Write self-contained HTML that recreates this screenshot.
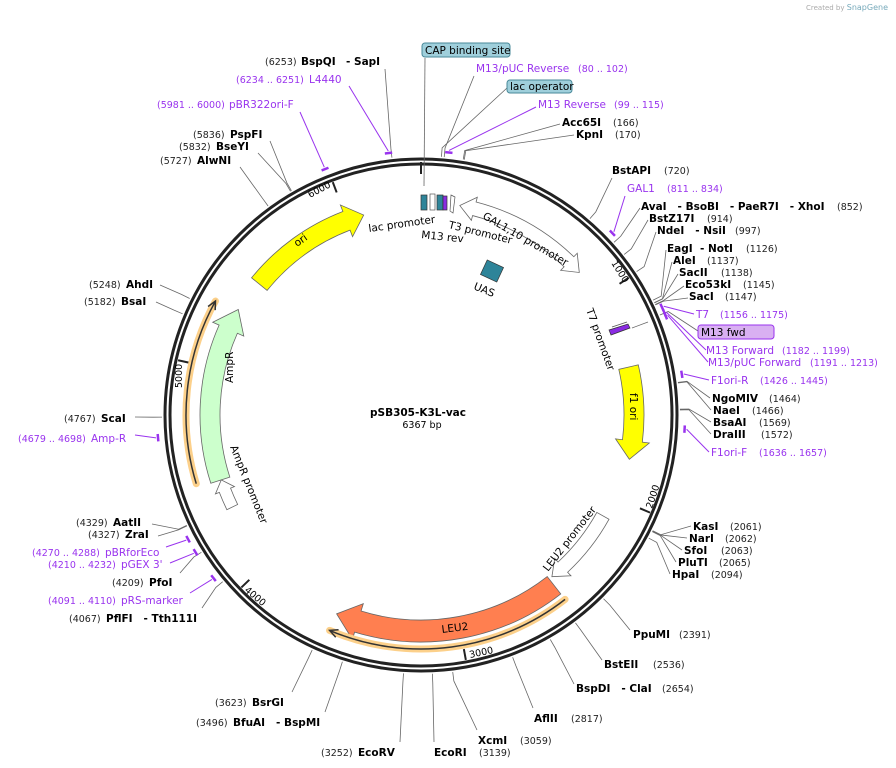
<!DOCTYPE html>
<html><head><meta charset="utf-8"><style>
html,body{margin:0;padding:0;background:#fff;}
svg{display:block;font-family:"DejaVu Sans","Liberation Sans",sans-serif;}
.b{font-weight:bold;font-size:10.5px;fill:#000;}
.n{font-size:9.5px;fill:#222;}
.p{font-size:10.5px;fill:#9933ee;}
.pn{font-size:9.5px;fill:#9933ee;}
.f{font-size:10.5px;fill:#000;}
</style></head><body>
<svg id="s" width="896" height="768" viewBox="0 0 896 768" xmlns="http://www.w3.org/2000/svg">
<text x="888" y="10" text-anchor="end" font-size="7" fill="#aaa">Created by <tspan fill="#7ab" font-size="8">SnapGene</tspan></text>
<g id="lines" stroke="#666" stroke-width="0.8" fill="none"></g>
<g id="plines" stroke="#9933ee" stroke-width="1" fill="none"></g>
<circle cx="421" cy="415" r="256" fill="none" stroke="#222" stroke-width="3"/>
<circle cx="421" cy="415" r="251" fill="none" stroke="#222" stroke-width="3"/>
<g id="ticks" stroke="#222" stroke-width="2"></g>
<g id="feat"></g>
<line x1="425" y1="58" x2="424" y2="186" stroke="#666" stroke-width="0.8"/>
<rect x="421" y="195" width="6" height="15" fill="#2e8499" stroke="#333" stroke-width="0.7"/>
<rect x="430" y="194" width="5" height="16" fill="#fff" stroke="#555" stroke-width="0.7"/>
<rect x="437" y="195" width="6" height="15" fill="#2e8499" stroke="#333" stroke-width="0.7"/>
<rect x="443" y="196" width="4" height="14" fill="#8a2be2" stroke="#333" stroke-width="0.7"/>
<path d="M451 195 L455 197 L453 213 L450 211Z" fill="#fff" stroke="#555" stroke-width="0.7"/>
<rect x="483" y="263" width="18" height="16" fill="#2e8499" stroke="#333" stroke-width="0.7" transform="rotate(25 492 271)"/>
<path d="M609 330 L628 324 L630 328 L611 335Z" fill="#8a2be2" stroke="#333" stroke-width="0.7"/>
<path d="M612 327 L627 322" stroke="#555" stroke-width="0.8"/>
<line x1="632" y1="328" x2="648" y2="322" stroke="#666" stroke-width="0.8"/>
<text class="f" x="369" y="232" transform="rotate(-8 369 232)">lac promoter</text>
<text class="f" x="421" y="238" transform="rotate(6 421 238)">M13 rev</text>
<text class="f" x="448" y="228" transform="rotate(14 448 228)">T3 promoter</text>
<text class="f" x="473" y="289" transform="rotate(22 473 289)">UAS</text>
<text class="f" x="482" y="218" transform="rotate(30 482 218)">GAL1,10 promoter</text>
<text class="f" x="586" y="310" transform="rotate(70 586 310)">T7 promoter</text>
<text class="f" x="297" y="247" transform="rotate(-35 297 247)">ori</text>
<text class="f" x="630" y="393" transform="rotate(90 630 393)">f1 ori</text>
<text class="f" x="442" y="633" transform="rotate(-7 442 633)">LEU2</text>
<text class="f" x="548" y="572" transform="rotate(-52 548 572)">LEU2 promoter</text>
<text class="f" x="233" y="383" transform="rotate(-90 233 383)">AmpR</text>
<text class="f" x="230" y="447" transform="rotate(68 230 447)">AmpR promoter</text>
<text font-size="9.5" x="310" y="198" transform="rotate(-28 310 198)">6000</text>
<text font-size="9.5" x="611" y="263" transform="rotate(58 611 263)">1000</text>
<text font-size="9.5" x="652" y="509" transform="rotate(-72 652 509)">2000</text>
<text font-size="9.5" x="470" y="658" transform="rotate(-12 470 658)">3000</text>
<text font-size="9.5" x="244" y="591" transform="rotate(40 244 591)">4000</text>
<text font-size="9.5" x="182" y="388" transform="rotate(-90 182 388)">5000</text>
<text x="418" y="416" text-anchor="middle" font-size="10.5" font-weight="bold">pSB305-K3L-vac</text>
<text x="422" y="428" text-anchor="middle" font-size="9.5">6367 bp</text>
<text class="n" x="265" y="65">(6253)</text><text class="b" x="301" y="65">BspQI</text><text class="b" x="346" y="65">- SapI</text>
<text class="pn" x="236" y="83">(6234 .. 6251)</text><text class="p" x="309" y="83">L4440</text>
<text class="pn" x="157" y="108">(5981 .. 6000)</text><text class="p" x="229" y="108">pBR322ori-F</text>
<text class="n" x="193" y="138">(5836)</text><text class="b" x="230" y="138">PspFI</text>
<text class="n" x="179" y="150">(5832)</text><text class="b" x="216" y="150">BseYI</text>
<text class="n" x="160" y="164">(5727)</text><text class="b" x="197" y="164">AlwNI</text>
<rect x="422" y="43" width="88" height="14" rx="3" fill="#9fcfdb" stroke="#4a8a9a"/>
<text class="f" x="425" y="54">CAP binding site</text>
<text class="p" x="476" y="72">M13/pUC Reverse</text><text class="pn" x="578" y="72">(80 .. 102)</text>
<rect x="507" y="80" width="65" height="13" rx="3" fill="#9fcfdb" stroke="#4a8a9a"/>
<text class="f" x="510" y="90">lac operator</text>
<text class="p" x="538" y="108">M13 Reverse</text><text class="pn" x="614" y="108">(99 .. 115)</text>
<text class="b" x="562" y="126">Acc65I</text><text class="n" x="613" y="126">(166)</text>
<text class="b" x="576" y="138">KpnI</text><text class="n" x="615" y="138">(170)</text>
<text class="b" x="612" y="174">BstAPI</text><text class="n" x="664" y="174">(720)</text>
<text class="p" x="627" y="192">GAL1</text><text class="pn" x="667" y="192">(811 .. 834)</text>
<text class="b" x="641" y="210">AvaI &#160; - BsoBI &#160; - PaeR7I &#160; - XhoI</text><text class="n" x="837" y="210">(852)</text>
<text class="b" x="649" y="222">BstZ17I</text><text class="n" x="707" y="222">(914)</text>
<text class="b" x="657" y="234">NdeI &#160; - NsiI</text><text class="n" x="735" y="234">(997)</text>
<text class="b" x="667" y="252">EagI &#160;- NotI</text><text class="n" x="746" y="252">(1126)</text>
<text class="b" x="673" y="264">AleI</text><text class="n" x="707" y="264">(1137)</text>
<text class="b" x="679" y="276">SacII</text><text class="n" x="721" y="276">(1138)</text>
<text class="b" x="685" y="288">Eco53kI</text><text class="n" x="743" y="288">(1145)</text>
<text class="b" x="689" y="300">SacI</text><text class="n" x="725" y="300">(1147)</text>
<text class="p" x="696" y="318">T7</text><text class="pn" x="720" y="318">(1156 .. 1175)</text>
<rect x="698" y="325" width="76" height="14" rx="3" fill="#d9b0f2" stroke="#9933ee"/>
<text class="f" x="701" y="336">M13 fwd</text>
<text class="p" x="706" y="354">M13 Forward</text><text class="pn" x="782" y="354">(1182 .. 1199)</text>
<text class="p" x="708" y="366">M13/pUC Forward</text><text class="pn" x="810" y="366">(1191 .. 1213)</text>
<text class="p" x="711" y="384">F1ori-R</text><text class="pn" x="760" y="384">(1426 .. 1445)</text>
<text class="b" x="712" y="402">NgoMIV</text><text class="n" x="769" y="402">(1464)</text>
<text class="b" x="713" y="414">NaeI</text><text class="n" x="752" y="414">(1466)</text>
<text class="b" x="713" y="426">BsaAI</text><text class="n" x="759" y="426">(1569)</text>
<text class="b" x="713" y="438">DraIII</text><text class="n" x="761" y="438">(1572)</text>
<text class="p" x="711" y="456">F1ori-F</text><text class="pn" x="759" y="456">(1636 .. 1657)</text>
<text class="b" x="693" y="530">KasI</text><text class="n" x="730" y="530">(2061)</text>
<text class="b" x="689" y="542">NarI</text><text class="n" x="725" y="542">(2062)</text>
<text class="b" x="684" y="554">SfoI</text><text class="n" x="721" y="554">(2063)</text>
<text class="b" x="678" y="566">PluTI</text><text class="n" x="719" y="566">(2065)</text>
<text class="b" x="672" y="578">HpaI</text><text class="n" x="711" y="578">(2094)</text>
<text class="b" x="633" y="638">PpuMI</text><text class="n" x="679" y="638">(2391)</text>
<text class="b" x="604" y="668">BstEII</text><text class="n" x="653" y="668">(2536)</text>
<text class="b" x="576" y="692">BspDI &#160; - ClaI</text><text class="n" x="662" y="692">(2654)</text>
<text class="b" x="534" y="722">AflII</text><text class="n" x="571" y="722">(2817)</text>
<text class="b" x="478" y="744">XcmI</text><text class="n" x="520" y="744">(3059)</text>
<text class="b" x="434" y="756">EcoRI</text><text class="n" x="479" y="756">(3139)</text>
<text class="n" x="321" y="756">(3252)</text><text class="b" x="358" y="756">EcoRV</text>
<text class="n" x="196" y="726">(3496)</text><text class="b" x="233" y="726">BfuAI &#160; - BspMI</text>
<text class="n" x="215" y="706">(3623)</text><text class="b" x="252" y="706">BsrGI</text>
<text class="n" x="89" y="288">(5248)</text><text class="b" x="126" y="288">AhdI</text>
<text class="n" x="84" y="305">(5182)</text><text class="b" x="121" y="305">BsaI</text>
<text class="n" x="64" y="422">(4767)</text><text class="b" x="101" y="422">ScaI</text>
<text class="pn" x="18" y="442">(4679 .. 4698)</text><text class="p" x="91" y="442">Amp-R</text>
<text class="n" x="76" y="526">(4329)</text><text class="b" x="113" y="526">AatII</text>
<text class="n" x="88" y="538">(4327)</text><text class="b" x="125" y="538">ZraI</text>
<text class="pn" x="32" y="556">(4270 .. 4288)</text><text class="p" x="105" y="556">pBRforEco</text>
<text class="pn" x="48" y="568">(4210 .. 4232)</text><text class="p" x="121" y="568">pGEX 3'</text>
<text class="n" x="112" y="586">(4209)</text><text class="b" x="149" y="586">PfoI</text>
<text class="pn" x="48" y="604">(4091 .. 4110)</text><text class="p" x="121" y="604">pRS-marker</text>
<text class="n" x="69" y="622">(4067)</text><text class="b" x="106" y="622">PflFI &#160; - Tth111I</text>
</svg>
<script>
var cx=421,cy=415,N=6367,NS="http://www.w3.org/2000/svg";
function P(a,r){var t=a*Math.PI/180;return [cx+r*Math.sin(t),cy-r*Math.cos(t)];}
function el(g,tag,at){var e=document.createElementNS(NS,tag);for(var k in at)e.setAttribute(k,at[k]);document.getElementById(g).appendChild(e);return e;}
var L=[[385,69,6253],[240,167,5727],[270,141,5836],[258,153,5832],[474,76,91],[507,88,80],[560,124,166],[574,135,170],
[612,178,720],[640,208,852],[648,220,914],[656,232,997],[666,250,1126],[672,262,1137],[678,274,1138],[684,286,1145],[688,298,1147],
[698,331,1190],[710,398,1464],[711,410,1466],[711,422,1569],[711,434,1572],
[691,526,2061],[687,538,2062],[682,550,2063],[676,562,2065],[670,574,2094],[630,630,2391],[602,660,2536],[574,684,2654],[533,708,2817],
[477,730,3059],[434,742,3139],[400,742,3252],[325,712,3496],[292,692,3623],
[160,285,5248],[156,302,5182],[135,417,4767],[152,524,4329],[158,536,4327],[180,573,4209],[202,608,4067]];
L.forEach(function(l){var a=l[2]/N*360,p=P(a,259),q=P(a,268);el("lines","path",{d:"M"+l[0]+" "+l[1]+" L"+q[0]+" "+q[1]+" L"+p[0]+" "+p[1]});});
var PL=[[349,86,6242],[300,112,5990],[536,107,107],[625,196,822],[694,314,1165],[706,350,1190],[708,362,1202],[709,380,1435],[709,452,1646],
[135,435,4688],[166,547,4279],[170,563,4221],[190,593,4100]];
PL.forEach(function(l){var a=l[2]/N*360,q=P(a,266),b1=P(a-0.8,264),b2=P(a+0.8,264);
el("plines","path",{d:"M"+l[0]+" "+l[1]+" L"+q[0]+" "+q[1]});
el("plines","path",{d:"M"+b1[0]+" "+b1[1]+" L"+b2[0]+" "+b2[1],"stroke-width":"2.5"});});
[1000,2000,3000,4000,5000,6000].forEach(function(v){var a=v/N*360,p=P(a,249),q=P(a,238);el("ticks","line",{x1:p[0],y1:p[1],x2:q[0],y2:q[1]});});
el("ticks","line",{x1:421,y1:162,x2:421,y2:174});
function arc(r,a1,a2){var p=P(a2,r);var big=Math.abs(a2-a1)>180?1:0;var sw=a2>a1?1:0;return " A"+r+" "+r+" 0 "+big+" "+sw+" "+p[0]+" "+p[1];}
function M(a,r){var p=P(a,r);return "M"+p[0]+" "+p[1];}
function Lp(a,r){var p=P(a,r);return " L"+p[0]+" "+p[1];}
function arrow(r,w,a1,a2,hl,fill,two){var ro=r+w/2,ri=r-w/2,f=w*0.35;var s1=two?a1+hl:a1,s2=a2-hl;
var d=M(s1,ro)+arc(ro,s1,s2)+Lp(s2,ro+f)+Lp(a2,r)+Lp(s2,ri-f)+Lp(s2,ri)+arc(ri,s2,s1);
if(two)d+=Lp(s1,ri-f)+Lp(a1,r)+Lp(s1,ro+f);d+="Z";
el("feat","path",{d:d,fill:fill,stroke:"#666","stroke-width":"0.8"});}
arrow(208,20,-51,-16,5,"#ffff00");
arrow(213,20,77,102,5,"#ffff00");
arrow(216,22,142,203,6,"#ff7f50");
arrow(211,20,252,300,6,"#ccffcc");
arrow(213,14,10.5,48,4,"#fff",true);
arrow(208,14,119,141,4,"#fff");
arrow(210,12,244,252,3,"#fff");
function thin(r,a1,a2){var d=M(a1,r)+arc(r,a1,a2);el("feat","path",{d:d,fill:"none",stroke:"#fcd08a","stroke-width":"7","stroke-linecap":"round"});
el("feat","path",{d:d,fill:"none",stroke:"#333","stroke-width":"1.5"});
var t=P(a2,r),b1=P(a2-2,r+4),b2=P(a2-2,r-4);el("feat","path",{d:"M"+b1[0]+" "+b1[1]+" L"+t[0]+" "+t[1]+" L"+b2[0]+" "+b2[1],fill:"none",stroke:"#333","stroke-width":"1.5"});}
thin(234,142,203);thin(235,253,299);
</script>
</body></html>
